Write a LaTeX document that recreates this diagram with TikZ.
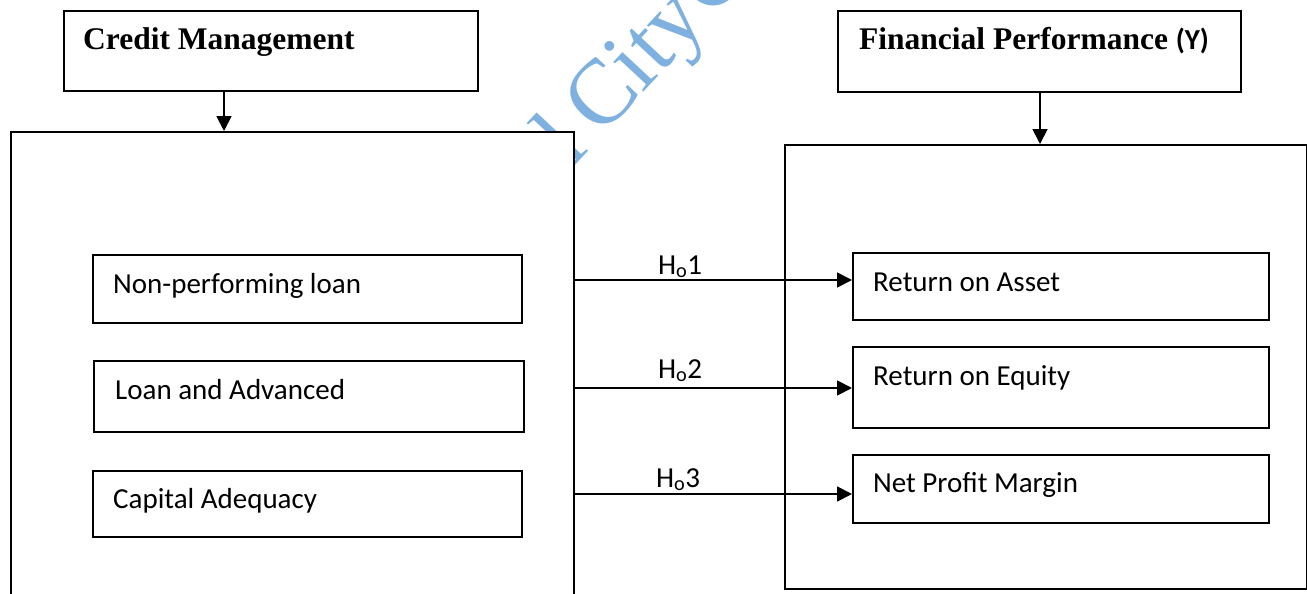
\documentclass[tikz,border=0pt]{standalone}
\usepackage{fontspec}
\setmainfont{Liberation Serif}
\newfontfamily\calfont{Carlito}
\usetikzlibrary{arrows.meta}
\definecolor{wmblue}{RGB}{126,177,224}
\tikzset{
  box/.style={draw=black, line width=1.8pt, fill=white, inner sep=0pt, anchor=north west},
  title/.style={font=\fontsize{31.5}{36}\selectfont\bfseries, anchor=base west, inner sep=0pt},
  item/.style={font=\calfont\fontsize{29}{34}\selectfont, anchor=base west, inner sep=0pt},
  hyp/.style={font=\calfont\fontsize{29}{34}\selectfont, anchor=base, inner sep=0pt},
  conn/.style={line width=1.8pt, -{Triangle[length=15pt,width=15pt]}},
  wm/.style={text=wmblue, font=\fontsize{92}{92}\selectfont, inner sep=0pt, anchor=base west, rotate=47},
}
\begin{document}
\begin{tikzpicture}[x=1pt,y=-1pt]
\useasboundingbox (0,0) rectangle (1307,594);
% watermark
\node[wm] (wmk) at (544.4,198.7) {al\kern-0.07em\ City\kern0.04em C};
% left side
\node[box, minimum width=414, minimum height=80] (cm) at (63,10) {};
\node[title] (cmt) at (83,50) {Credit Management};
\node[box, minimum width=563, minimum height=480] (L) at (10,131) {};
\node[box, minimum width=429, minimum height=68] (nb) at (92,254) {};
\node[item] (nt) at (113,293) {Non-performing loan};
\node[box, minimum width=430, minimum height=71] (lb) at (93,360) {};
\node[item] (lt) at (115,399) {Loan and Advanced};
\node[box, minimum width=429, minimum height=66] (cb) at (92,470) {};
\node[item] (ct) at (113,508) {Capital Adequacy};
% right side
\node[box, minimum width=403, minimum height=81] (fp) at (837,10) {};
\node[title] (fpt) at (859,50) {Financial Performance {\calfont\fontsize{29}{32}\selectfont (Y)}};
\node[box, minimum width=522, minimum height=444] (R) at (784,144) {};
\node[box, minimum width=416, minimum height=67] (ra) at (852,252) {};
\node[item] (rat) at (873,291) {Return on Asset};
\node[box, minimum width=416, minimum height=81] (re) at (852,346) {};
\node[item] (ret) at (873,385) {Return on Equity};
\node[box, minimum width=416, minimum height=68] (np) at (852,454) {};
\node[item] (npt) at (873,492) {Net Profit Margin};
% connectors
\coordinate (xa) at (224,0);
\coordinate (xb) at (1040,0);
\draw[conn] (cm.south -| xa) -- (L.north -| xa);
\draw[conn] (fp.south -| xb) -- (R.north -| xb);
\coordinate (h1) at (0,280);
\coordinate (h2) at (0,388);
\coordinate (h3) at (0,494);
\draw[conn] (L.east |- h1) -- (ra.west |- h1);
\draw[conn] (L.east |- h2) -- (re.west |- h2);
\draw[conn] (L.east |- h3) -- (np.west |- h3);
\node[hyp] (ho1) at (680,274) {H\textsubscript{o}1};
\node[hyp] (ho2) at (680,378) {H\textsubscript{o}2};
\node[hyp] (ho3) at (678,487) {H\textsubscript{o}3};
\end{tikzpicture}
\end{document}
